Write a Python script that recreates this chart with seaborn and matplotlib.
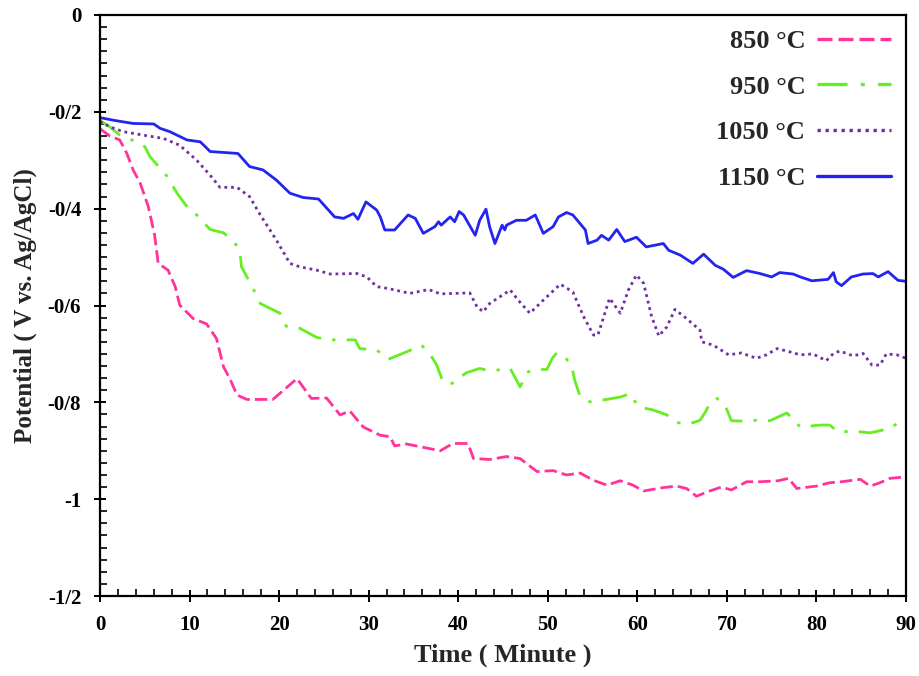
import numpy as np
import pandas as pd
import matplotlib
matplotlib.use("Agg")
import matplotlib.pyplot as plt
from matplotlib.ticker import MultipleLocator, FixedLocator, FixedFormatter
from matplotlib.lines import Line2D
import seaborn as sns

# ---------------- data ----------------
labels = ["850 °C", "950 °C", "1050 °C", "1150 °C"]

t_850 = [0, 1.1, 2.2, 3.0, 3.7, 4.5, 5.4, 6.1, 6.5, 7.6, 8.4, 8.9, 10.4, 11.9, 13.0, 13.8, 14.5,
         15.3, 16.4, 19.3, 22.0, 23.6, 25.3, 26.8, 27.9, 29.4, 31.3, 32.4, 32.9, 34.2, 38.0, 39.4,
         41.1, 41.7, 43.5, 45.4, 46.9, 48.8, 50.6, 52.1, 53.6, 55.1, 56.6, 58.1, 59.5, 60.7, 62.9,
         64.4, 65.5, 66.6, 68.1, 69.4, 70.5, 72.2, 73.7, 75.7, 76.9, 77.8, 80.0, 81.5, 82.8, 84.9,
         86.0, 87.1, 88.2, 90.0]
v_850 = [-0.235, -0.250, -0.258, -0.286, -0.320, -0.348, -0.396, -0.455, -0.513, -0.527, -0.561,
         -0.599, -0.627, -0.638, -0.668, -0.727, -0.751, -0.785, -0.794, -0.794, -0.751, -0.792,
         -0.791, -0.826, -0.818, -0.851, -0.868, -0.871, -0.890, -0.886, -0.900, -0.885, -0.885,
         -0.916, -0.918, -0.912, -0.916, -0.943, -0.941, -0.950, -0.946, -0.961, -0.971, -0.962,
         -0.971, -0.983, -0.976, -0.973, -0.978, -0.994, -0.983, -0.975, -0.981, -0.964, -0.964,
         -0.962, -0.957, -0.978, -0.973, -0.966, -0.964, -0.959, -0.973, -0.966, -0.957, -0.954]

t_950 = [0, 1.1, 2.2, 4.1, 5.0, 5.6, 7.4, 8.6, 10.0, 10.8, 12.3, 13.8, 14.9, 15.6, 15.8, 17.1,
         17.9, 20.1, 20.8, 22.3, 24.2, 25.7, 28.5, 29.0, 30.9, 32.2, 34.2, 35.9, 36.8, 37.6, 38.3,
         39.3, 40.9, 42.4, 43.5, 45.0, 45.8, 46.3, 46.9, 47.8, 48.8, 49.9, 50.5, 51.0, 51.9, 52.7,
         53.0, 53.6, 54.7, 56.6, 58.1, 59.2, 60.1, 61.8, 63.3, 64.4, 65.9, 67.0, 67.6, 68.1, 68.9,
         69.8, 70.5, 72.0, 73.3, 74.8, 76.7, 78.2, 80.4, 81.5, 82.3, 84.9, 86.0, 88.2, 89.3, 90.0]
v_950 = [-0.218, -0.231, -0.248, -0.262, -0.272, -0.293, -0.331, -0.368, -0.403, -0.413, -0.443,
         -0.450, -0.468, -0.484, -0.520, -0.565, -0.596, -0.616, -0.643, -0.647, -0.666, -0.671,
         -0.671, -0.689, -0.692, -0.711, -0.696, -0.682, -0.699, -0.723, -0.758, -0.761, -0.739,
         -0.730, -0.735, -0.732, -0.730, -0.747, -0.768, -0.737, -0.732, -0.732, -0.709, -0.698,
         -0.705, -0.727, -0.754, -0.787, -0.799, -0.794, -0.789, -0.782, -0.809, -0.816, -0.826,
         -0.842, -0.844, -0.837, -0.820, -0.802, -0.792, -0.806, -0.838, -0.839, -0.837, -0.838,
         -0.822, -0.851, -0.847, -0.847, -0.860, -0.861, -0.863, -0.854, -0.840, -0.838]

t_1050 = [0, 1.1, 2.6, 4.8, 7.1, 8.9, 10.8, 12.3, 13.4, 15.3, 16.7, 17.9, 19.7, 21.2, 22.3, 24.2,
          25.7, 28.7, 29.8, 30.9, 32.2, 34.6, 36.7, 38.0, 41.3, 42.1, 42.8, 43.5, 45.8, 46.7, 48.0,
          49.5, 51.4, 52.8, 54.0, 55.1, 55.6, 56.9, 58.1, 59.0, 59.9, 60.7, 61.6, 62.4, 63.3, 64.2,
          65.5, 67.0, 67.2, 68.5, 70.2, 71.6, 73.3, 74.4, 75.6, 76.7, 78.2, 79.6, 81.1, 81.9, 82.6,
          84.1, 85.2, 86.2, 87.1, 87.8, 89.0, 90.0]
v_1050 = [-0.220, -0.231, -0.241, -0.248, -0.255, -0.269, -0.300, -0.331, -0.356, -0.356, -0.375,
          -0.413, -0.465, -0.513, -0.520, -0.527, -0.535, -0.534, -0.541, -0.561, -0.565, -0.575,
          -0.567, -0.576, -0.574, -0.603, -0.613, -0.596, -0.568, -0.589, -0.616, -0.589, -0.556,
          -0.572, -0.623, -0.661, -0.661, -0.585, -0.616, -0.568, -0.537, -0.554, -0.623, -0.663,
          -0.644, -0.608, -0.627, -0.651, -0.675, -0.682, -0.702, -0.698, -0.709, -0.702, -0.689,
          -0.694, -0.702, -0.700, -0.714, -0.699, -0.694, -0.704, -0.699, -0.723, -0.723, -0.700,
          -0.702, -0.709]

t_1150 = [0, 1.7, 3.7, 6.0, 6.7, 7.8, 9.7, 11.2, 12.3, 15.4, 16.7, 18.2, 19.7, 21.2, 22.7, 24.4,
          26.2, 27.2, 28.3, 28.8, 29.7, 30.9, 31.3, 31.8, 32.9, 34.4, 35.2, 36.1, 37.4, 37.8, 38.1,
          39.1, 39.6, 40.1, 40.6, 41.9, 42.4, 43.1, 43.5, 44.1, 44.9, 45.2, 45.4, 46.5, 47.6, 48.6,
          49.5, 50.6, 51.2, 52.1, 52.8, 54.2, 54.5, 55.5, 56.0, 56.8, 57.7, 58.6, 59.9, 61.0, 62.9,
          63.5, 64.8, 66.2, 67.4, 68.7, 69.6, 70.7, 72.2, 73.7, 75.0, 75.9, 77.4, 78.2, 79.5, 81.3,
          81.9, 82.2, 82.8, 83.9, 85.2, 86.3, 86.9, 88.0, 89.1, 90.0]
v_1150 = [-0.212, -0.218, -0.224, -0.225, -0.234, -0.241, -0.258, -0.262, -0.282, -0.286, -0.313,
          -0.320, -0.341, -0.368, -0.377, -0.380, -0.417, -0.420, -0.410, -0.422, -0.386, -0.403,
          -0.417, -0.444, -0.444, -0.413, -0.420, -0.451, -0.437, -0.427, -0.434, -0.417, -0.427,
          -0.406, -0.413, -0.455, -0.424, -0.401, -0.437, -0.472, -0.434, -0.444, -0.434, -0.424,
          -0.424, -0.413, -0.451, -0.437, -0.417, -0.408, -0.413, -0.444, -0.472, -0.465, -0.455,
          -0.465, -0.443, -0.468, -0.459, -0.479, -0.472, -0.486, -0.496, -0.513, -0.494, -0.517,
          -0.525, -0.542, -0.528, -0.534, -0.541, -0.532, -0.535, -0.541, -0.549, -0.546, -0.532,
          -0.551, -0.559, -0.541, -0.535, -0.534, -0.541, -0.530, -0.548, -0.550]

xticks = [0, 10, 20, 30, 40, 50, 60, 70, 80, 90]
yticks = [-1.2, -1.0, -0.8, -0.6, -0.4, -0.2, 0.0]
ytick_labels = ["-1/2", "-1", "-0/8", "-0/6", "-0/4", "-0/2", "0"]

# ---------------- style ----------------
sns.set_theme(style="white")
plt.rcParams["font.family"] = ["Liberation Serif", "DejaVu Serif"]
plt.rcParams["font.weight"] = "bold"

colors = ["#FF3399", "#66EE22", "#7030A0", "#2424F0"]
styles = [(0, (4.5, 1.8)), (0, (9, 4, 1.2, 4)), (0, (1.0, 1.4)), "-"]

series = [(t_850, v_850), (t_950, v_950), (t_1050, v_1050), (t_1150, v_1150)]

fig = plt.figure(figsize=(9.2, 6.76), dpi=100)
ax = fig.add_axes([100 / 920, 1 - 596 / 676, 806 / 920, 581 / 676])

for (t, v), lab, c, ls in zip(series, labels, colors, styles):
    df = pd.DataFrame({"t": t, "v": v})
    sns.lineplot(data=df, x="t", y="v", ax=ax, color=c, linestyle=ls, linewidth=2.0,
                 sort=False, estimator=None, legend=False)

ax.set_xlim(0, 90)
ax.set_ylim(-1.2, 0)
ax.xaxis.set_major_locator(FixedLocator(xticks))
ax.xaxis.set_minor_locator(MultipleLocator(2))
ax.yaxis.set_major_locator(FixedLocator(yticks))
ax.yaxis.set_major_formatter(FixedFormatter(ytick_labels))
ax.yaxis.set_minor_locator(MultipleLocator(0.025))

for s in ax.spines.values():
    s.set_visible(True)
    s.set_color("black")
    s.set_linewidth(1.6)

ax.tick_params(axis="both", which="major", direction="inout", length=9, width=1.4,
               labelsize=15, colors="black", pad=9, bottom=True, left=True, top=False, right=False)
ax.tick_params(axis="both", which="minor", direction="in", length=5, width=1.2,
               colors="black", bottom=True, left=True, top=False, right=False)
for lbl in ax.get_xticklabels() + ax.get_yticklabels():
    lbl.set_fontweight("bold")

ax.set_xlabel("Time ( Minute )", fontsize=19, fontweight="bold", labelpad=6)
ax.set_ylabel("Potential ( V vs. Ag/AgCl)", fontsize=18, fontweight="bold", labelpad=8)

handles = [Line2D([0], [0], color=c, linestyle=ls, linewidth=2.4) for c, ls in zip(colors, styles)]
leg = ax.legend(handles, labels, loc="upper right", bbox_to_anchor=(1.011, 1.016), frameon=False,
                markerfirst=False, handlelength=2.8, handletextpad=0.45, labelspacing=0.84,
                prop={"family": "Liberation Serif", "weight": "bold", "size": 19})

fig.savefig("out.png", dpi=100, facecolor="white")
